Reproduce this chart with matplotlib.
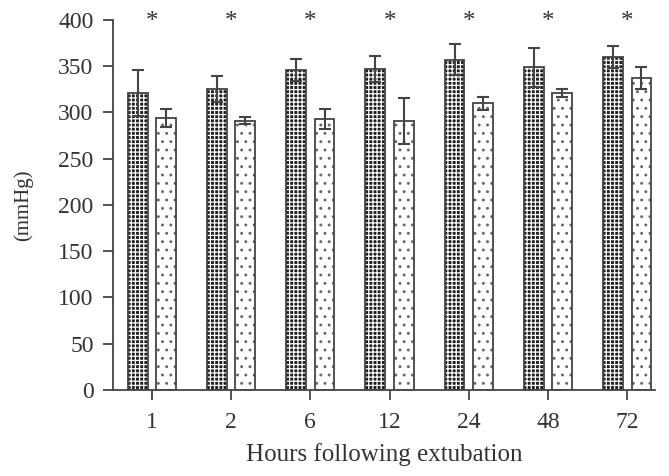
import numpy as np
import matplotlib.pyplot as plt

plt.rcParams['font.family'] = ['Liberation Serif', 'DejaVu Serif']
plt.rcParams['hatch.linewidth'] = 0.9

horas = ['1', '2', '6', '12', '24', '48', '72']
grupo_a = [321, 325, 346, 347, 357, 349, 360]
err_a = [25, 14, 12, 14, 17, 21, 12]
grupo_b = [294, 291, 293, 291, 310, 321, 337]
err_b = [10, 4, 11, 25, 7, 4, 12]
signif = [True, True, True, True, True, True, True]

x = np.arange(len(horas))
ancho = 0.25
desp = 0.18
gris = '#444444'

fig = plt.figure(figsize=(6.69, 4.76), dpi=100)
ax = fig.add_axes([0.169, 0.181, 0.81, 0.777])

# barras a cuadros (fondo oscuro + trama blanca)
ax.bar(x - desp, grupo_a, ancho, color='#1e1e1e', edgecolor='white',
       hatch='++++', linewidth=0, zorder=2)
ax.bar(x - desp, grupo_a, ancho, fill=False, edgecolor=gris, linewidth=1.3, zorder=3)

# barras punteadas
ax.bar(x + desp, grupo_b, ancho, color='white', edgecolor='#666666',
       hatch='..', linewidth=0, zorder=2)
ax.bar(x + desp, grupo_b, ancho, fill=False, edgecolor=gris, linewidth=1.3, zorder=3)

ax.errorbar(x - desp, grupo_a, yerr=err_a, fmt='none', ecolor=gris,
            elinewidth=1.5, capsize=4, capthick=1.5, zorder=4)
ax.errorbar(x + desp, grupo_b, yerr=err_b, fmt='none', ecolor=gris,
            elinewidth=1.5, capsize=4, capthick=1.5, zorder=4)

for i, s in enumerate(signif):
    if s:
        ax.text(x[i], 398, '*', ha='center', va='center', fontsize=18,
                color='#333333', clip_on=False)

ax.set_xlim(-0.49, 6.35)
ax.set_ylim(0, 400)
ax.set_yticks(np.arange(0, 401, 50))
ax.set_xticks(x)
ax.set_xticklabels(horas)
ax.set_xlabel('Hours following extubation', fontsize=18, color='#333333')
ax.set_ylabel('(mmHg)', fontsize=15, color='#333333')
ax.xaxis.set_label_coords(0.5, -0.143)
ax.yaxis.set_label_coords(-0.148, 0.5)

for lado in ['top', 'right']:
    ax.spines[lado].set_visible(False)
for lado in ['left', 'bottom']:
    ax.spines[lado].set_color(gris)
    ax.spines[lado].set_linewidth(1.3)
ax.tick_params(axis='both', colors=gris, labelcolor='#333333', labelsize=17,
               width=1.3, length=7, pad=7)
ax.tick_params(axis='x', pad=9)

plt.savefig('out.png', dpi=100)
